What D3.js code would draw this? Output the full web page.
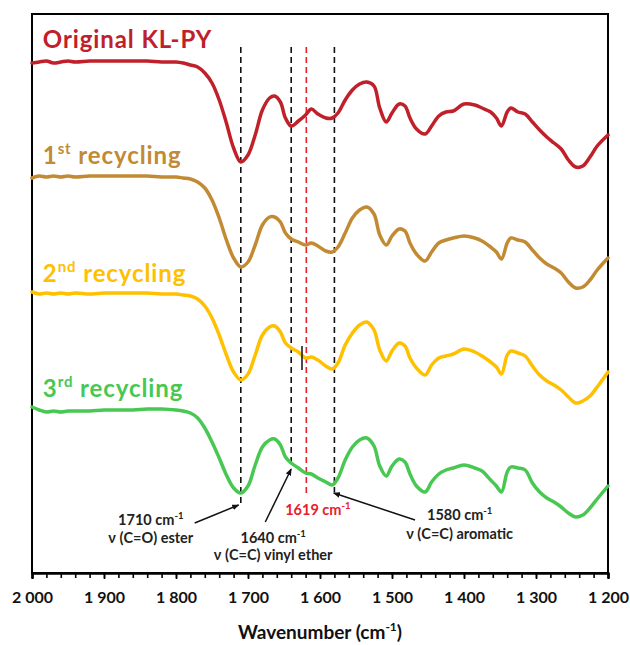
<!DOCTYPE html>
<html><head><meta charset="utf-8">
<script src="https://cdn.jsdelivr.net/npm/d3@7"></script>
<style>html,body{margin:0;padding:0;background:#fff;}svg{display:block;}</style>
</head><body>
<svg id="chart" width="630" height="645"></svg>
<script>
// ---- data (wavenumber in cm-1, stacked signal in arbitrary units) ----
const wavenumbers = [2000,1990,1980,1970,1960,1950,1940,1920,1900,1880,1860,1840,1820,1800,
  1790,1780,1770,1760,1750,1740,1730,1720,1710,1700,1690,1680,1670,
  1663,1655,1648,1640,1630,1620,1612,1603,1592,1583,1575,
  1565,1555,1545,1535,1525,1517,1508,1500,1490,1482,1475,1466,1454,1445,1435,1425,1415,
  1400,1385,1375,1363,1355,1348,1340,1335,1325,1315,1305,1295,1285,1275,1265,1255,1245,1235,1225,1215,1200];
const originalKLPY = [5.10,5.11,5.12,5.10,5.11,5.12,5.11,5.12,5.12,5.12,5.12,5.12,5.11,5.11,
  5.10,5.08,5.06,5.00,4.90,4.73,4.50,4.25,4.11,4.18,4.38,4.63,4.75,
  4.77,4.71,4.55,4.47,4.52,4.58,4.64,4.59,4.55,4.55,4.60,
  4.73,4.83,4.89,4.91,4.87,4.65,4.51,4.60,4.69,4.67,4.55,4.44,4.39,4.47,4.57,4.61,4.62,
  4.69,4.68,4.65,4.61,4.55,4.47,4.61,4.65,4.61,4.59,4.51,4.43,4.36,4.30,4.24,4.13,4.06,4.07,4.16,4.27,4.38];
const recycling1 = [3.95,3.97,3.96,3.97,3.96,3.97,3.96,3.97,3.97,3.97,3.97,3.97,3.96,3.96,
  3.95,3.94,3.91,3.85,3.73,3.55,3.33,3.15,3.06,3.11,3.28,3.48,3.56,
  3.56,3.51,3.40,3.34,3.31,3.28,3.30,3.27,3.22,3.21,3.26,
  3.40,3.55,3.63,3.66,3.59,3.38,3.28,3.37,3.44,3.42,3.30,3.19,3.12,3.21,3.30,3.33,3.35,
  3.37,3.35,3.32,3.26,3.21,3.14,3.30,3.35,3.33,3.31,3.23,3.15,3.09,3.05,3.00,2.91,2.85,2.86,2.93,3.03,3.15];
const recycling2 = [2.81,2.79,2.80,2.79,2.80,2.79,2.80,2.79,2.80,2.80,2.80,2.80,2.79,2.79,
  2.78,2.77,2.74,2.67,2.55,2.38,2.18,2.01,1.93,1.99,2.18,2.38,2.46,
  2.47,2.41,2.30,2.25,2.21,2.15,2.16,2.13,2.07,2.04,2.10,
  2.28,2.40,2.48,2.51,2.43,2.23,2.12,2.22,2.30,2.27,2.15,2.05,1.98,2.08,2.15,2.17,2.19,
  2.24,2.21,2.17,2.11,2.06,1.99,2.18,2.22,2.20,2.17,2.07,1.98,1.92,1.88,1.83,1.76,1.70,1.72,1.77,1.86,2.01];
const recycling3 = [1.66,1.63,1.61,1.62,1.61,1.62,1.62,1.62,1.63,1.63,1.63,1.64,1.64,1.63,
  1.62,1.60,1.55,1.45,1.31,1.15,0.98,0.85,0.80,0.87,1.08,1.26,1.33,
  1.34,1.28,1.16,1.10,1.05,1.00,0.99,0.95,0.91,0.88,0.95,
  1.13,1.26,1.33,1.35,1.27,1.07,0.97,1.07,1.14,1.11,0.99,0.87,0.81,0.91,0.99,1.03,1.05,
  1.08,1.05,1.02,0.93,0.87,0.81,1.01,1.06,1.05,1.03,0.90,0.81,0.75,0.71,0.66,0.60,0.56,0.58,0.65,0.74,0.87];
const seriesLabels = [["Original KL-PY",""],["1","st"],["2","nd"],["3","rd"]];
const seriesLabelY = [5.25, 4.09, 2.91, 1.76];
const xTickValues = [2000,1900,1800,1700,1600,1500,1400,1300,1200];
const xMinorTicks = d3.range(2000, 1199, -20);
const bandLines = [ {wn:1710, top:5.26, bottom:0.70, red:false},
                    {wn:1640, top:5.26, bottom:1.06, red:false},
                    {wn:1619, top:5.26, bottom:0.80, red:true},
                    {wn:1580, top:5.26, bottom:0.81, red:false} ];
const bandTexts = [
  {wn:1835, v:0.48, t:"1710 cm", sup:"-1"}, {wn:1835, v:0.30, t:"ν (C=O) ester"},
  {wn:1665, v:0.30, t:"1640 cm", sup:"-1"}, {wn:1665, v:0.13, t:"ν (C=C) vinyl ether"},
  {wn:1603, v:0.58, t:"1619 cm", sup:"-1", red:true},
  {wn:1406, v:0.53, t:"1580 cm", sup:"-1"}, {wn:1406, v:0.34, t:"ν (C=C) aromatic"} ];
const arrows = [ {from:[1774,0.50], to:[1713,0.68]},
                 {from:[1676,0.51], to:[1640,1.04]},
                 {from:[1468,0.53], to:[1581,0.80]} ];
const markTick = {wn:1625, top:2.27, bottom:2.03};

// ---- styles ----
const colors = ["#C0202A", "#C28A33", "#FFC000", "#48C852"];
const font = "Lato, 'Open Sans', sans-serif";

const svg = d3.select("#chart");
const x = d3.scaleLinear().domain([2000, 1200]).range([32, 608]);
const y = d3.scaleLinear().domain([0, 5.59]).range([573, 14]);

// frame
svg.append("rect").attr("x", x(2000)).attr("y", y(5.59))
  .attr("width", x(1200) - x(2000)).attr("height", y(0) - y(5.59))
  .attr("fill", "none").attr("stroke", "#000").attr("stroke-width", 2);

// axis
const locale = d3.formatLocale({decimal: ".", thousands: " ", grouping: [3], currency: ["", ""]});
const fmt = locale.format(",");
const gMinor = svg.append("g").attr("transform", `translate(0,${y(0)})`)
  .call(d3.axisBottom(x).tickValues(xMinorTicks).tickSize(5).tickFormat(""));
const gMajor = svg.append("g").attr("transform", `translate(0,${y(0)})`)
  .call(d3.axisBottom(x).tickValues(xTickValues).tickSize(6).tickPadding(13).tickFormat(fmt));
[gMinor, gMajor].forEach(g => { g.select(".domain").attr("stroke-width", 2);
  g.selectAll(".tick line").attr("stroke-width", 1.6); });
gMajor.selectAll(".tick text").attr("font-family", font).attr("font-size", 16)
  .attr("font-weight", 700).attr("fill", "#111");

const title = svg.append("text").attr("x", (x(2000) + x(1200)) / 2).attr("y", 639)
  .attr("text-anchor", "middle").attr("font-family", font).attr("font-size", 19)
  .attr("font-weight", 700).attr("fill", "#111");
title.append("tspan").text("Wavenumber (cm");
title.append("tspan").text("-1").attr("font-size", 12).attr("dy", -8);
title.append("tspan").text(")").attr("dy", 8);

// dashed band lines
svg.selectAll("line.band").data(bandLines).join("line").attr("class", "band")
  .attr("x1", d => x(d.wn)).attr("x2", d => x(d.wn))
  .attr("y1", d => y(d.top)).attr("y2", d => y(d.bottom))
  .attr("stroke", d => d.red ? "#E8202A" : "#111").attr("stroke-width", 1.6)
  .attr("stroke-dasharray", "6,4");

// spectra
const allSeries = [originalKLPY, recycling1, recycling2, recycling3];
const line = d3.line().x(d => x(d[0])).y(d => y(d[1])).curve(d3.curveCatmullRom.alpha(0.5));
allSeries.forEach((vals, i) => {
  svg.append("path").datum(wavenumbers.map((w, k) => [w, vals[k]]))
    .attr("d", line).attr("fill", "none").attr("stroke", colors[i])
    .attr("stroke-width", 3.5).attr("stroke-linejoin", "round").attr("stroke-linecap", "round");
});

// small vertical mark on 2nd recycling
svg.append("line").attr("x1", x(markTick.wn)).attr("x2", x(markTick.wn))
  .attr("y1", y(markTick.top)).attr("y2", y(markTick.bottom))
  .attr("stroke", "#111").attr("stroke-width", 1.5);

// series labels
seriesLabels.forEach((lab, i) => {
  const t = svg.append("text").attr("x", x(1985)).attr("y", y(seriesLabelY[i]))
    .attr("font-family", font).attr("font-size", 24).attr("font-weight", 700)
    .attr("letter-spacing", 0.9).attr("fill", colors[i]);
  if (lab[1] === "") { t.text(lab[0]); }
  else {
    t.append("tspan").text(lab[0]);
    t.append("tspan").text(lab[1]).attr("font-size", 15).attr("dy", -10);
    t.append("tspan").text(" recycling").attr("dy", 10);
  }
});

// arrows
svg.append("defs").append("marker").attr("id", "ah").attr("viewBox", "0 0 10 10")
  .attr("refX", 9).attr("refY", 5).attr("markerWidth", 7).attr("markerHeight", 7)
  .attr("orient", "auto").attr("markerUnits", "userSpaceOnUse")
  .append("path").attr("d", "M0,1 L10,5 L0,9 Z").attr("fill", "#111");
svg.selectAll("line.arrow").data(arrows).join("line").attr("class", "arrow")
  .attr("x1", d => x(d.from[0])).attr("y1", d => y(d.from[1]))
  .attr("x2", d => x(d.to[0])).attr("y2", d => y(d.to[1]))
  .attr("stroke", "#111").attr("stroke-width", 1.5).attr("marker-end", "url(#ah)");

// band annotation texts
bandTexts.forEach(d => {
  const t = svg.append("text").attr("x", x(d.wn)).attr("y", y(d.v))
    .attr("text-anchor", "middle").attr("font-family", font).attr("font-size", 14.5)
    .attr("font-weight", 700).attr("fill", d.red ? "#E8202A" : "#222");
  t.append("tspan").text(d.t);
  if (d.sup) t.append("tspan").text(d.sup).attr("font-size", 9.5).attr("dy", -6);
});
</script>
</body></html>
